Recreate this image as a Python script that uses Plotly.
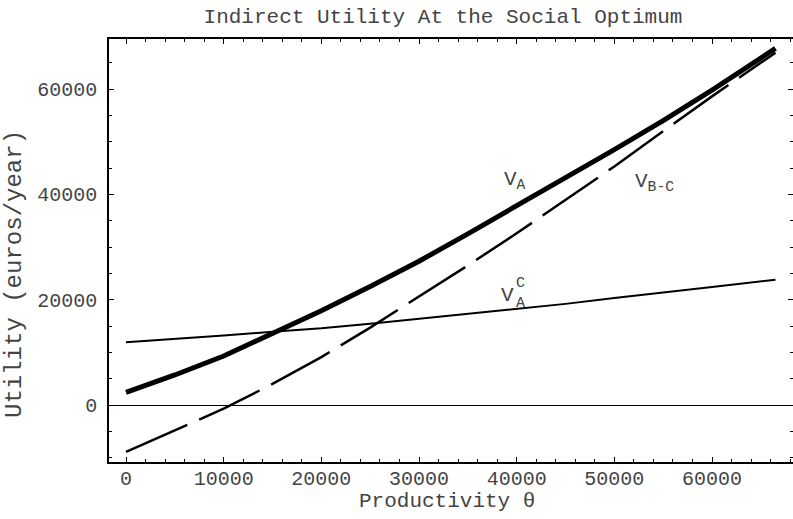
import plotly.graph_objects as go

theta = [0, 5000, 10000, 15000, 20000, 25000, 30000, 35000, 40000, 45000, 50000, 55000, 60000, 66500]
v_a = [2400, 5700, 9300, 13600, 17900, 22500, 27300, 32500, 37800, 43100, 48500, 54000, 59800, 67700]
v_bc = [-8900, -4800, -700, 4000, 9100, 14700, 20600, 26500, 32600, 39000, 45300, 52000, 58600, 66900]
v_ac = [11900, 12500, 13200, 13900, 14550, 15450, 16400, 17300, 18200, 19200, 20300, 21300, 22400, 23800]

x_ticks = [0, 10000, 20000, 30000, 40000, 50000, 60000]
y_ticks = [0, 20000, 40000, 60000]

FONT = "Liberation Mono, Courier New, monospace"
TXT = "#444"

fig = go.Figure()
fig.add_trace(go.Scatter(x=theta, y=v_ac, mode="lines", line=dict(color="black", width=2), showlegend=False))
fig.add_trace(go.Scatter(x=theta, y=v_bc, mode="lines", line=dict(color="black", width=2.5, dash="67px,13px"), showlegend=False))
fig.add_trace(go.Scatter(x=theta, y=v_a, mode="lines", line=dict(color="black", width=5), showlegend=False))

axis_common = dict(
    showline=True, linecolor="black", linewidth=1.5, mirror="allticks",
    ticks="inside", ticklen=5, tickwidth=1, tickcolor="black", automargin=False,
    showgrid=False, tickfont=dict(family=FONT, size=20, color=TXT),
)

fig.update_xaxes(
    range=[-1741, 68293], tickvals=x_ticks, ticktext=[str(v) for v in x_ticks],
    zeroline=False, ticklabelstandoff=-3,
    minor=dict(dtick=2000, tick0=0, ticks="inside", ticklen=3, tickcolor="black", tickwidth=1, showgrid=False),
    **axis_common,
)
fig.update_yaxes(
    range=[-10823, 69494], tickvals=y_ticks, ticktext=[str(v) for v in y_ticks],
    zeroline=True, zerolinecolor="black", zerolinewidth=1, ticklabelstandoff=6,
    minor=dict(dtick=5000, tick0=0, ticks="inside", ticklen=3, tickcolor="black", tickwidth=1, showgrid=False),
    **axis_common,
)

ann = []
def lab(text, x, y, size):
    ann.append(dict(text=text, x=x, y=y, xref="x", yref="y", showarrow=False,
                    font=dict(family=FONT, size=size, color=TXT), xanchor="center", yanchor="middle"))

lab("V<sub>A</sub>", 39800, 42700, 21)
lab("V<sub>B-C</sub>", 54100, 42300, 21)
lab("V", 39100, 20800, 21)
lab("C", 40400, 23100, 15)
lab("A", 40400, 19300, 15)

ann.append(dict(text="Productivity θ", x=(447 - 109) / 684, y=(462 - 501) / 423, xref="paper", yref="paper",
                showarrow=False, font=dict(family=FONT, size=21, color=TXT), xanchor="center", yanchor="middle"))
ann.append(dict(text="Utility (euros/year)", x=(14 - 109) / 684, y=(462 - 274) / 423, xref="paper", yref="paper",
                showarrow=False, textangle=-90, font=dict(family=FONT, size=24, color=TXT),
                xanchor="center", yanchor="middle"))

fig.update_layout(
    width=793, height=519,
    margin=dict(l=109, r=0, t=39, b=57),
    paper_bgcolor="white", plot_bgcolor="white",
    title=dict(text="Indirect Utility At the Social Optimum", x=443 / 793, xanchor="center",
               y=1 - 16 / 519, yanchor="middle", font=dict(family=FONT, size=21, color=TXT)),
    annotations=ann,
)

fig.write_html("out.html", config={"displayModeBar": False},
               post_script="document.body.style.margin='0px';")
